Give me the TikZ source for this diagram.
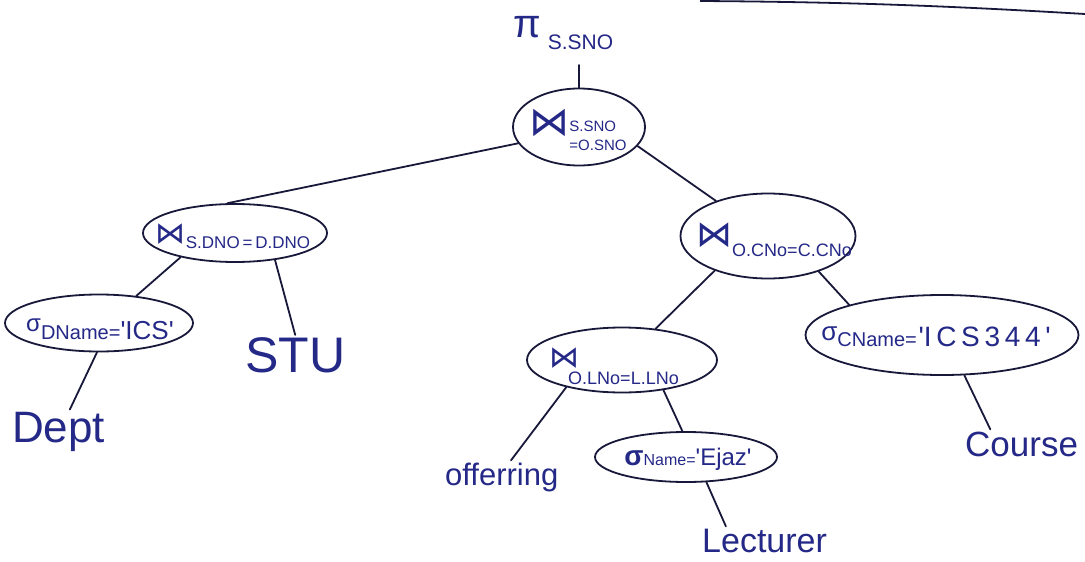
\documentclass[tikz,border=0pt]{standalone}
\usepackage{fontspec}
\setmainfont{Liberation Sans}
\newfontfamily\symfont{DejaVu Sans}
\usetikzlibrary{shapes.geometric}
\definecolor{ink}{RGB}{24,24,58}
\definecolor{pen}{RGB}{36,40,135}
\newcommand{\fs}[1]{\fontsize{#1}{#1}\selectfont}
\newcommand{\bt}[1]{{\symfont\fs{#1}⋈}}
\newcommand{\qs}{\textquotesingle}
\begin{document}
\begin{tikzpicture}[x=1pt,y=-1pt,
  op/.style={ellipse, draw=ink, line width=1.8pt, inner sep=0pt},
  lbl/.style={text=pen, inner sep=0pt},
  leaf/.style={text=pen, inner sep=2pt},
  conn/.style={draw=ink, line width=1.8pt, line cap=round}]
\fill[white] (0,0) rectangle (1085,562);
\useasboundingbox (0,0) rectangle (1085,562);
% paper edge line
\draw[ink, line width=1.8pt] (700,1) .. controls (850,2) and (950,6) .. (1085,14);

% projection
\node[leaf, anchor=base west, inner sep=0pt] (pi) at (513,37) {\fs{40}π\hspace{7pt}\raisebox{-13pt}{\fs{21}S.SNO}};
\coordinate (pitail) at (579,65);

% operator ellipses
\node[op, minimum width=132pt, minimum height=77pt,
  label={[lbl, xshift=-1pt, yshift=-6pt]center:{\bt{40}\raisebox{-15pt}{\fontsize{15}{19}\selectfont\begin{tabular}[b]{@{}l@{}}S.SNO\\=O.SNO\end{tabular}}}}] (root) at (579,127) {};
\node[op, minimum width=184pt, minimum height=58pt,
  label={[lbl, xshift=-2pt, yshift=-3pt]center:{\bt{30}\raisebox{-5pt}{\fs{17}S.DNO\,=\,D.DNO}}}] (lj) at (235,233) {};
\node[op, minimum width=175pt, minimum height=85pt,
  label={[lbl, xshift=6pt, yshift=-4pt]center:{\bt{36}\raisebox{-10pt}{\fs{18}O.CNo=C.CNo}}}] (rj) at (768,236) {};
\node[op, minimum width=188pt, minimum height=57pt,
  label={[lbl, xshift=1pt, yshift=-6pt]center:{\raisebox{8pt}{\fs{24}σ}{\fs{20}DName=}{\fs{26}\qs ICS\qs}}}] (s1) at (99,323) {};
\node[op, minimum width=190pt, minimum height=65pt,
  label={[lbl, xshift=-8pt, yshift=-6pt]center:{\bt{30}\hspace{-11pt}\raisebox{-17pt}{\fs{18}O.LNo=L.LNo}}}] (lj2) at (622,360) {};
\node[op, minimum width=273pt, minimum height=80pt,
  label={[lbl, xshift=-6pt, yshift=-2pt]center:{\raisebox{6pt}{\fs{26}σ}{\fs{20}CName=}\,{\fs{28}\qs I\,C\,S\,3\,4\,4\,\qs}}}] (s2) at (942,335) {};
\node[op, minimum width=182pt, minimum height=50pt,
  label={[lbl, xshift=2pt, yshift=-2pt]center:{{\fs{28}\bfseries σ}{\fs{16}Name=}{\fs{24}\qs Ejaz\qs}}}] (s3) at (686,457) {};

% leaves
\node[leaf, anchor=base west] (dept) at (10,442) {\fs{44}Dept};
\node[leaf, anchor=base west] (stu) at (243,372) {\fs{50}STU};
\node[leaf, anchor=base west] (course) at (963,456) {\fs{35}Course};
\node[leaf, anchor=base west] (off) at (443,485) {\fs{31}offerring};
\node[leaf, anchor=base west] (lec) at (700,552) {\fs{34}Lecturer};

% connectors
\draw[conn] (pitail) -- (root.north);
\draw[conn] (root.195) -- (lj.104);
\draw[conn] (root.342) -- (rj.146);
\draw[conn] (lj.204) -- (s1.36);
\draw[conn] (lj.326) -- (stu.north);
\draw[conn] (s1.266) -- (dept.63);
\draw[conn] (rj.213) -- (lj2.43);
\draw[conn] (rj.325) -- (s2.162);
\draw[conn] (s2.299) -- (course.155);
\draw[conn] (lj2.206) -- (off.61);
\draw[conn] (lj2.324) -- (s3.98);
\draw[conn] (s3.309) -- (lec.160);
\end{tikzpicture}
\end{document}
